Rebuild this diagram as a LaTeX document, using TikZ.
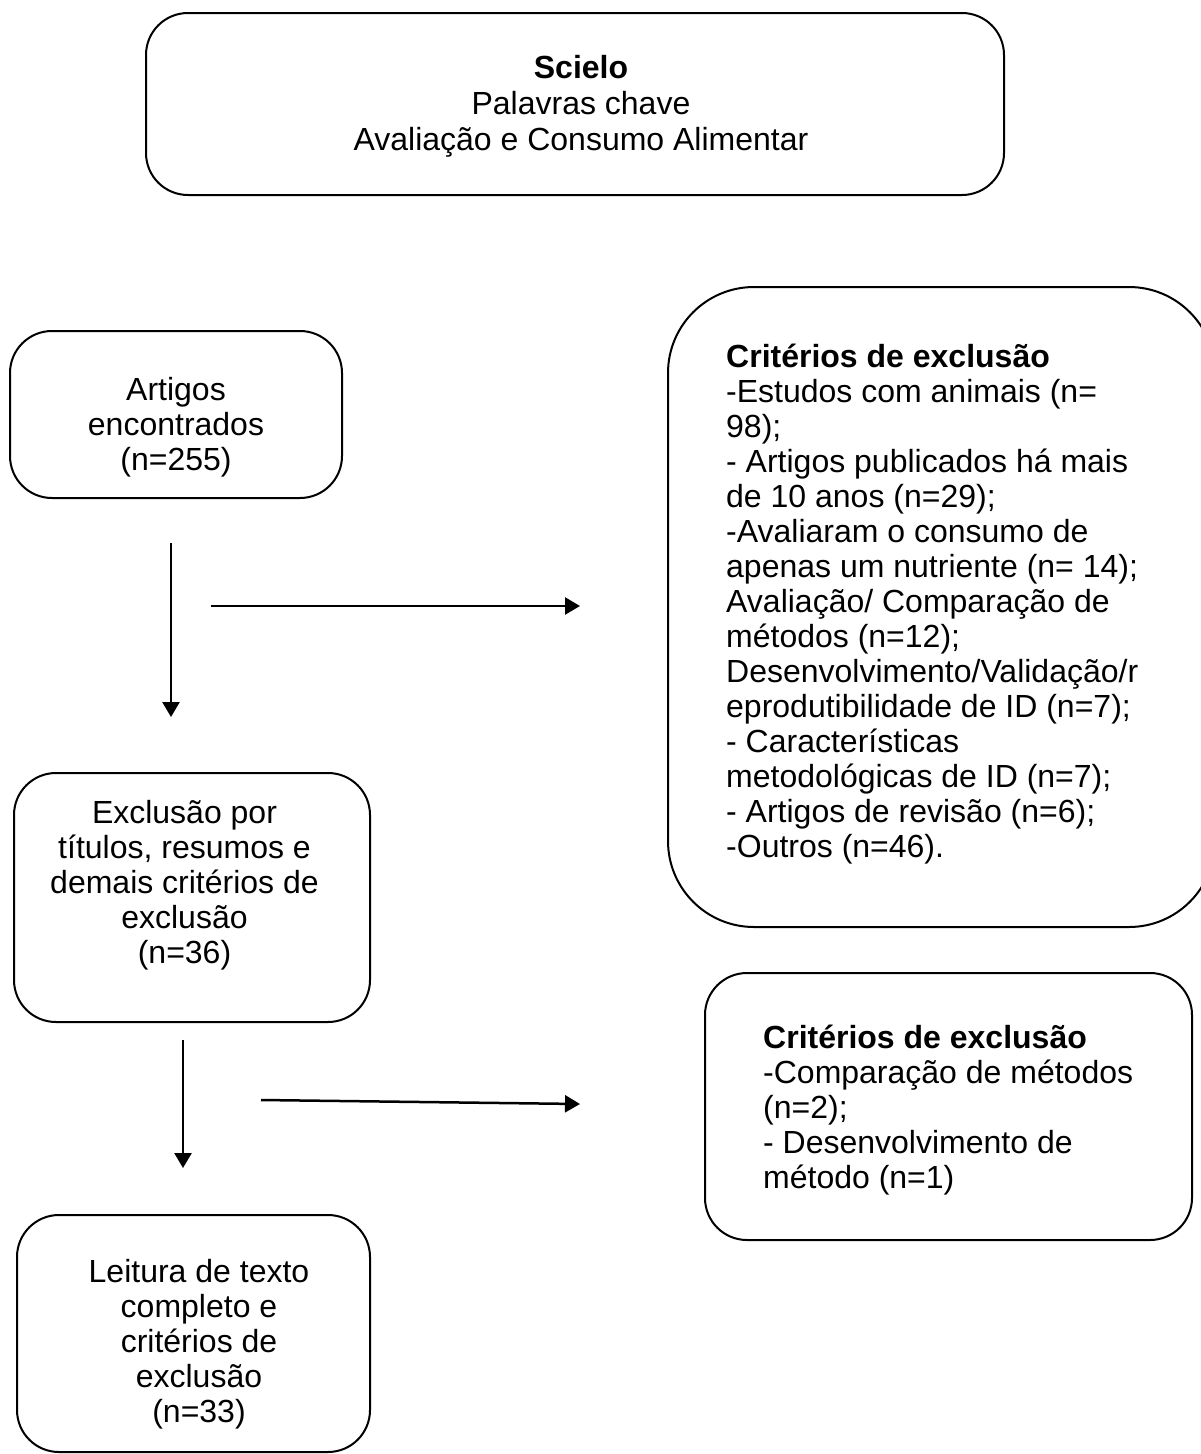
\documentclass[tikz,border=0pt]{standalone}
\usepackage{fontspec}
\setmainfont{Liberation Sans}
\usetikzlibrary{arrows.meta}
\begin{document}
\begin{tikzpicture}[x=1pt,y=-1pt,
  box/.style={draw=black, line width=2pt, rounded corners=42pt, inner sep=0pt},
  bigbox/.style={box, rounded corners=86pt},
  txt/.style={inner sep=0pt, anchor=north, align=center, font=\fontsize{32}{35}\selectfont},
  toptxt/.style={txt, font=\fontsize{32}{36}\selectfont},
  ltxt/.style={txt, anchor=north west, align=left},
  arr/.style={line width=2.5pt, -{Triangle[length=15pt,width=17pt]}}]
\useasboundingbox[fill=white] (0,0) rectangle (1200,1454);

% boxes
\node[box, minimum width=858pt, minimum height=182pt] (topbox) at (575,104) {};
\node[box, minimum width=332pt, minimum height=167pt] (artbox) at (176,414.5) {};
\node[box, minimum width=356pt, minimum height=249pt] (excbox) at (192,897.5) {};
\node[box, minimum width=353pt, minimum height=237pt] (leibox) at (193.5,1333.5) {};
\node[bigbox, minimum width=547pt, minimum height=640pt] (bigbox) at (941.5,607) {};
\node[box, minimum width=487pt, minimum height=267pt] (smallbox) at (948.5,1106.5) {};

% texts
\node[toptxt] (toptext) at (581,53.2) {\strut\textbf{Scielo}\\Palavras chave\\Avaliação e Consumo Alimentar};
\node[txt] (arttext) at (176,375.5) {\strut Artigos\\encontrados\\(n=255)};
\node[txt] (exctext) at (184.5,798.5) {\strut Exclusão por\\títulos, resumos e\\demais critérios de\\exclusão\\(n=36)};
\node[txt] (leitext) at (199,1257.5) {\strut Leitura de texto\\completo e\\critérios de\\exclusão\\(n=33)};
\node[ltxt] (bigtext) at (726,342.5) {\strut\textbf{Critérios de exclusão}\\-Estudos com animais (n=\\98);\\- Artigos publicados há mais\\de 10 anos (n=29);\\-Avaliaram o consumo de\\apenas um nutriente (n= 14);\\Avaliação/ Comparação de\\métodos (n=12);\\Desenvolvimento/Validação/r\\eprodutibilidade de ID (n=7);\\- Características\\metodológicas de ID (n=7);\\- Artigos de revisão (n=6);\\-Outros (n=46).};
\node[ltxt] (smalltext) at (763,1023.5) {\strut\textbf{Critérios de exclusão}\\-Comparação de métodos\\(n=2);\\- Desenvolvimento de\\método (n=1)};

% arrows
\coordinate (v1s) at (171,543);
\coordinate (v1e) at (171,717);
\coordinate (h1s) at (211,606);
\coordinate (h1e) at (580,606);
\coordinate (v2s) at (183,1040);
\coordinate (v2e) at (183,1168);
\coordinate (h2s) at (261,1100);
\coordinate (h2e) at (580,1104);
\draw[arr] (v1s) -- (v1e);
\draw[arr] (h1s) -- (h1e);
\draw[arr] (v2s) -- (v2e);
\draw[arr] (h2s) -- (h2e);
\end{tikzpicture}
\end{document}
